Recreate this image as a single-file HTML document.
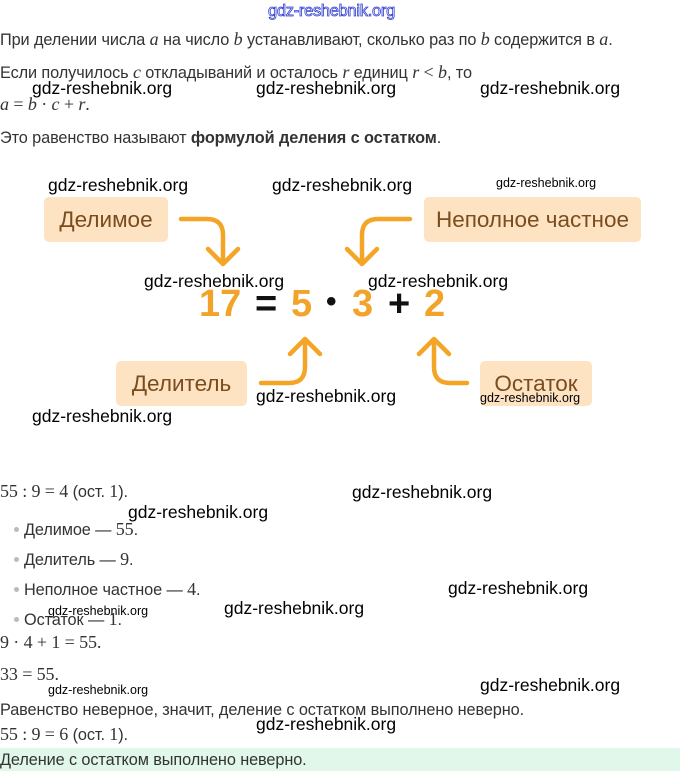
<!DOCTYPE html>
<html><head><meta charset="utf-8"><style>
body{margin:0;width:680px;height:771px;background:#fff;position:relative;overflow:hidden;font-family:"Liberation Sans",sans-serif;color:#333;}
.t{position:absolute;font-size:16.3px;white-space:nowrap;line-height:18px;letter-spacing:-0.1px}
.m{font-family:"Liberation Serif",serif;font-style:italic;font-size:18px;}
.n{font-family:"Liberation Serif",serif;font-size:18px;}
.w{position:absolute;font-size:17.5px;color:#000;white-space:nowrap;line-height:18px;}
.ws{position:absolute;font-size:12.5px;color:#000;white-space:nowrap;line-height:14px;}
.box{position:absolute;background:#fde3c2;border-radius:5px;color:#7a4c1e;font-size:22.5px;display:flex;align-items:center;justify-content:center;}
.eq{position:absolute;font-weight:bold;font-size:38px;color:#f2a329;line-height:40px;}
.k{color:#111;}
.b{position:absolute;width:5px;height:5px;border-radius:50%;background:#bbb;}
</style></head><body>
<div style="position:absolute;left:268px;top:2px;font-size:16.5px;color:#fff;-webkit-text-stroke:0.8px #3340d0;letter-spacing:-0.3px">gdz-reshebnik.org</div>
<div class="t" style="left:0;top:30px">При делении числа <span class="m">a</span> на число <span class="m">b</span> устанавливают, сколько раз по <span class="m">b</span> содержится в <span class="m">a</span>.</div>
<div class="t" style="left:0;top:63px">Если получилось <span class="m">c</span> откладываний и осталось <span class="m">r</span> единиц <span class="m">r</span> <span class="n">&lt;</span> <span class="m">b</span>, то</div>
<div class="t" style="left:0;top:95px"><span class="m">a</span> <span class="n">=</span> <span class="m">b</span> <span class="n">·</span> <span class="m">c</span> <span class="n">+</span> <span class="m">r</span><span class="n">.</span></div>
<div class="t" style="left:0;top:129px">Это равенство называют <b>формулой деления с остатком</b>.</div>
<div class="w" style="left:32px;top:79px">gdz-reshebnik.org</div>
<div class="w" style="left:256px;top:79px">gdz-reshebnik.org</div>
<div class="w" style="left:480px;top:79px">gdz-reshebnik.org</div>

<div class="box" style="left:44px;top:197px;width:124px;height:45px">Делимое</div>
<div class="box" style="left:424px;top:197px;width:217px;height:45px">Неполное частное</div>
<div class="box" style="left:116px;top:361px;width:131px;height:45px">Делитель</div>
<div class="box" style="left:480px;top:361px;width:112px;height:45px">Остаток</div>

<svg style="position:absolute;left:0;top:0" width="680" height="771" fill="none" stroke="#f4a526" stroke-width="4.5" stroke-linecap="round" stroke-linejoin="round">
<path d="M181 219 H207 Q223 219 223 235 V263"/><path d="M208 249 L223 264 L238 249"/>
<path d="M410 219 H378 Q362 219 362 235 V263"/><path d="M347 249 L362 264 L377 249"/>
<path d="M261 383 H289 Q305 383 305 367 V340"/><path d="M290 354 L305 339 L320 354"/>
<path d="M467 383 H450 Q434 383 434 367 V340"/><path d="M419 354 L434 339 L449 354"/>
</svg>

<div class="eq" style="left:199px;top:284px">17</div>
<div class="eq k" style="left:255px;top:284px">=</div>
<div class="eq" style="left:291px;top:284px">5</div>
<div class="eq k" style="left:326px;top:282px;font-size:30px">•</div>
<div class="eq" style="left:352px;top:284px">3</div>
<div class="eq k" style="left:388px;top:284px">+</div>
<div class="eq" style="left:424px;top:284px">2</div>

<div class="w" style="left:48px;top:176px">gdz-reshebnik.org</div>
<div class="w" style="left:272px;top:176px">gdz-reshebnik.org</div>
<div class="ws" style="left:496px;top:176px">gdz-reshebnik.org</div>
<div class="w" style="left:144px;top:272px">gdz-reshebnik.org</div>
<div class="w" style="left:368px;top:272px">gdz-reshebnik.org</div>
<div class="w" style="left:256px;top:387px">gdz-reshebnik.org</div>
<div class="ws" style="left:480px;top:391px">gdz-reshebnik.org</div>
<div class="w" style="left:32px;top:407px">gdz-reshebnik.org</div>

<div class="t" style="left:0;top:482px"><span class="n">55 : 9 = 4</span> (ост. <span class="n">1</span>).</div>
<div class="b" style="left:14px;top:527px"></div><div class="t" style="left:24px;top:520px">Делимое — <span class="n">55</span>.</div>
<div class="b" style="left:14px;top:557px"></div><div class="t" style="left:24px;top:550px">Делитель — <span class="n">9</span>.</div>
<div class="b" style="left:14px;top:587px"></div><div class="t" style="left:24px;top:580px">Неполное частное — <span class="n">4</span>.</div>
<div class="b" style="left:14px;top:617px"></div><div class="t" style="left:24px;top:610px">Остаток — <span class="n">1</span>.</div>
<div class="t" style="left:0;top:633px"><span class="n">9 · 4 + 1 = 55.</span></div>
<div class="t" style="left:0;top:665px"><span class="n">33 = 55.</span></div>
<div class="t" style="left:0;top:701px">Равенство неверное, значит, деление с остатком выполнено неверно.</div>
<div class="t" style="left:0;top:725px"><span class="n">55 : 9 = 6</span> (ост. <span class="n">1</span>).</div>
<div style="position:absolute;left:0;top:748px;width:680px;height:23px;background:#e0f7e9"></div>
<div class="t" style="left:0;top:751px">Деление с остатком выполнено неверно.</div>

<div class="w" style="left:352px;top:483px">gdz-reshebnik.org</div>
<div class="w" style="left:128px;top:503px">gdz-reshebnik.org</div>
<div class="w" style="left:448px;top:579px">gdz-reshebnik.org</div>
<div class="w" style="left:224px;top:599px">gdz-reshebnik.org</div>
<div class="ws" style="left:48px;top:604px">gdz-reshebnik.org</div>
<div class="w" style="left:480px;top:676px">gdz-reshebnik.org</div>
<div class="ws" style="left:48px;top:683px">gdz-reshebnik.org</div>
<div class="w" style="left:256px;top:715px">gdz-reshebnik.org</div>
</body></html>
